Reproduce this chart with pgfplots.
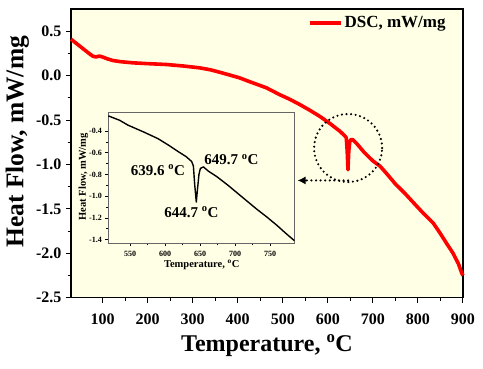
\documentclass[border=0pt]{standalone}
\usepackage{fontspec}
\setmainfont{Liberation Serif}
\usepackage{pgfplots}
\pgfplotsset{compat=1.18}
\usetikzlibrary{arrows.meta}
\definecolor{cream}{RGB}{255,255,229}
\definecolor{dscred}{RGB}{255,0,0}

\begin{document}
\begin{tikzpicture}[x=1bp,y=1bp]
\begin{axis}[
  at={(0bp,0bp)}, anchor=south west,
  scale only axis, width=392bp, height=288.7bp,
  xmin=30, xmax=900, ymin=-2.5, ymax=0.75,
  axis background/.style={fill=cream},
  axis line style={line width=1.1pt, black},
  tick align=outside, xtick pos=bottom, ytick pos=left,
  major tick length=5bp, minor tick length=3bp,
  every tick/.style={black, line width=1pt},
  xtick={100,200,...,900}, minor x tick num=1,
  ytick={0.5,0,-0.5,-1,-1.5,-2,-2.5},
  yticklabels={0.5,0.0,-0.5,-1.0,-1.5,-2.0,-2.5},
  minor y tick num=1,
  /pgf/number format/assume math mode=true,
  ticklabel style={font=\fontsize{16bp}{18bp}\selectfont\bfseries},
  xticklabel style={yshift=-8bp},
  yticklabel style={xshift=-1bp},
  xlabel={Temperature, \textsuperscript{o}C},
  ylabel={Heat Flow, mW/mg},
  xlabel style={font=\fontsize{24bp}{26bp}\selectfont\bfseries, at={(axis description cs:0.5,-0.165)}, anchor=center},
  ylabel style={font=\fontsize{25.5bp}{27bp}\selectfont\bfseries, at={(axis description cs:-0.137,0.54)}, anchor=center},
  legend style={draw=none, fill=none, at={(axis description cs:0.603,0.952)}, anchor=west,
    font=\fontsize{17bp}{19bp}\selectfont\bfseries, inner sep=0pt},
  legend image code/.code={\draw[line width=4bp,dscred] (0bp,0bp) -- (31bp,0bp);},
  clip=false,
]
\addplot[dscred, line width=3.6bp, line join=round] table {
x y
30 0.41
40 0.37
50 0.33
60 0.29
70 0.25
78 0.22
85 0.21
93 0.22
100 0.21
110 0.19
123 0.17
140 0.157
167 0.144
200 0.135
242 0.125
280 0.108
316 0.087
340 0.065
360 0.038
380 0.010
404 -0.025
430 -0.075
449 -0.110
464 -0.138
493 -0.214
515 -0.265
538 -0.326
560 -0.390
582 -0.458
605 -0.540
627 -0.627
638 -0.680
641 -0.700
643 -0.850
644.7 -1.060
646.5 -0.850
648.5 -0.750
651 -0.720
655 -0.720
665 -0.770
680 -0.860
700 -0.960
716 -1.020
730 -1.100
750 -1.220
770 -1.320
790 -1.430
812 -1.550
834 -1.660
850 -1.780
865 -1.900
878 -2.000
890 -2.120
897 -2.220
900 -2.250
};
\addlegendentry{DSC, mW/mg}
\draw[line width=2.6pt, black] (rel axis cs:0,1) -- (rel axis cs:1,1);
\draw[line width=2.4pt, line cap=round, dash pattern=on 0pt off 4.6pt] (axis cs:645,-0.815) circle[radius=34bp];
\draw[line width=2.4pt, line cap=round, dash pattern=on 0pt off 4.6pt] (axis cs:645,-1.18) -- (axis cs:548,-1.18);
\draw[line width=1pt, -{Latex[length=8bp,width=8bp]}] (axis cs:550,-1.18) -- (axis cs:533,-1.18);
\end{axis}

\begin{axis}[
  at={(37.3bp,54.4bp)}, anchor=south west,
  scale only axis, width=186bp, height=131bp,
  xmin=519, xmax=784.7, ymin=-1.435, ymax=-0.227,
  axis background/.style={fill=cream},
  axis line style={line width=0.8pt, black!60},
  tick align=outside, xtick pos=bottom, ytick pos=left,
  major tick length=3bp, minor tick length=2bp,
  every tick/.style={black, line width=0.6pt},
  xtick={550,600,...,750}, minor x tick num=1,
  ytick={-0.4,-0.6,-0.8,-1.0,-1.2,-1.4},
  yticklabels={-0.4,-0.6,-0.8,-1.0,-1.2,-1.4},
  minor y tick num=1,
  /pgf/number format/assume math mode=true,
  ticklabel style={font=\fontsize{8bp}{9bp}\selectfont\bfseries},
  xticklabel style={yshift=-1bp},
  xlabel={Temperature, \textsuperscript{o}C},
  ylabel={Heat Flow, mW/mg},
  xlabel style={font=\fontsize{10.5bp}{12bp}\selectfont\bfseries, at={(axis description cs:0.502,-0.166)}, anchor=center},
  ylabel style={font=\fontsize{10.5bp}{12bp}\selectfont\bfseries, at={(axis description cs:-0.134,0.508)}, anchor=center},
  clip=false,
]
\addplot[black, line width=1.4pt, line join=round] table {
x y
519 -0.260
535 -0.300
547 -0.345
570 -0.410
590 -0.470
605 -0.530
619 -0.590
630 -0.635
638 -0.680
640.5 -0.720
642.5 -0.900
644.7 -1.055
646.5 -0.930
648.5 -0.800
650.5 -0.745
654.8 -0.730
662 -0.770
674 -0.820
690 -0.900
703 -0.970
717 -1.045
731 -1.120
745 -1.190
760 -1.270
772 -1.340
784.7 -1.410
};
\node[font=\fontsize{15bp}{17bp}\selectfont\bfseries] at (axis cs:590,-0.761) {639.6 \textsuperscript{o}C};
\node[font=\fontsize{15bp}{17bp}\selectfont\bfseries] at (axis cs:695,-0.662) {649.7 \textsuperscript{o}C};
\node[font=\fontsize{15bp}{17bp}\selectfont\bfseries] at (axis cs:637.6,-1.147) {644.7 \textsuperscript{o}C};
\end{axis}
\pgfresetboundingbox
\path[use as bounding box] (-71bp,-71.3bp) rectangle (412bp,297.7bp);
\end{tikzpicture}
\end{document}
